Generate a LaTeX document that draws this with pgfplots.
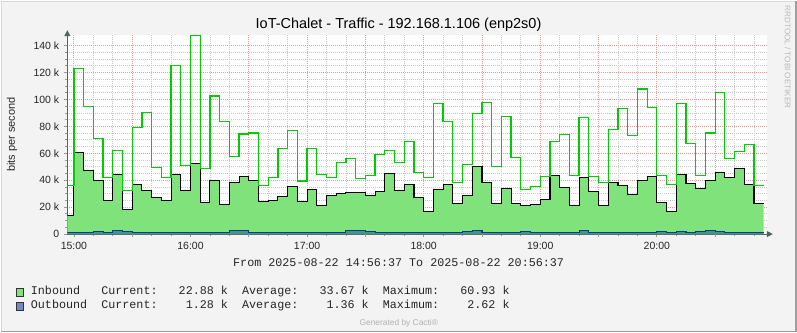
\documentclass[border=0pt]{standalone}
\usepackage{pgfplots}
\pgfplotsset{compat=1.18}
\usepackage{pgfplotstable}
\usepackage{fontspec}
\setmainfont{Liberation Sans}
\newfontfamily\legfont{Liberation Mono}
\usetikzlibrary{arrows.meta}
\definecolor{canvas}{HTML}{F3F3F3}
\definecolor{infill}{HTML}{7FE27B}
\definecolor{inmax}{RGB}{0,204,0}
\definecolor{outfill}{RGB}{72,146,138}
\definecolor{outline}{HTML}{0A3A94}
\definecolor{outbox}{RGB}{116,137,196}
\definecolor{mgrid}{HTML}{E89898}
\definecolor{mingrid}{HTML}{C8C8C8}
\definecolor{axiscol}{HTML}{4A6660}
\definecolor{shadea}{HTML}{D8D8D8}
\definecolor{shadeb}{HTML}{9E9E9E}

\pgfplotstableread{
t avg peak
-3.383 13.5 36.0
0 60.93 123.3
5 47.0 94.6
10 40.1 70.8
15 24.8 42.1
20 44.1 61.9
25 18.1 32.2
30 37.1 79.2
35 32.2 90.1
40 27.0 49.5
45 24.8 42.1
50 44.1 125.0
55 32.2 50.7
60 52.7 147.3
65 23.3 48.8
70 40.1 102.7
75 22.0 83.9
80 38.1 57.4
85 42.5 74.4
90 39.6 75.2
95 24.0 35.9
100 24.8 42.1
105 28.2 63.6
110 35.1 76.7
115 24.0 39.4
120 33.4 63.4
125 21.3 44.1
130 29.0 42.1
135 30.4 53.0
140 30.7 55.9
145 31.2 41.3
150 29.0 43.3
155 31.4 58.9
160 44.8 61.9
165 32.2 53.0
170 37.1 68.8
175 27.0 45.5
180 16.6 42.1
185 33.4 96.8
190 36.6 83.7
195 22.5 38.4
200 28.7 51.5
205 50.5 89.4
210 38.1 97.8
215 22.5 50.0
220 33.7 87.1
225 22.5 56.7
230 21.5 32.9
235 22.0 35.1
240 25.5 42.8
245 43.3 68.6
250 34.4 73.8
255 21.3 43.3
260 41.8 86.4
265 31.4 42.8
270 21.3 38.4
275 38.6 77.5
280 36.1 93.1
285 29.2 73.0
290 39.9 107.9
295 42.8 93.8
300 23.3 43.3
305 16.8 36.9
310 44.1 96.8
315 37.4 67.1
320 33.7 43.6
325 39.6 75.2
330 46.0 105.2
335 42.1 56.2
340 48.8 61.1
345 37.1 66.3
350 22.88 36.1
355 22.88 36.1
}\intable

\pgfplotstableread{
t out
-3.383 1.28
0 1.28
5 1.28
10 1.66
15 1.28
20 2.62
25 2.05
30 1.28
35 1.28
40 1.28
45 1.28
50 1.28
55 1.28
60 1.28
65 1.28
70 1.28
75 1.28
80 2.43
85 2.62
90 1.28
95 1.28
100 1.28
105 1.28
110 1.28
115 1.28
120 1.28
125 1.28
130 1.28
135 1.28
140 2.62
145 2.62
150 1.66
155 1.28
160 1.28
165 1.28
170 1.28
175 1.28
180 1.28
185 1.28
190 1.28
195 1.28
200 1.66
205 2.62
210 1.28
215 1.28
220 1.28
225 1.28
230 1.66
235 1.28
240 1.28
245 1.28
250 1.28
255 1.28
260 2.62
265 1.28
270 1.28
275 1.28
280 1.28
285 1.28
290 1.28
295 1.28
300 1.66
305 1.28
310 1.66
315 1.28
320 1.66
325 2.62
330 1.95
335 1.28
340 1.28
345 1.28
350 1.28
355 1.28
}\outtable

\begin{document}
\begin{tikzpicture}[x=1pt,y=1pt]
\fill[canvas] (0,0) rectangle (797,332);
\draw[shadea, line width=1pt] (0.5,0) -- (0.5,331.5) -- (797,331.5);
\draw[shadeb, line width=1.5pt] (0,0.75) -- (796.25,0.75) -- (796.25,332);
\useasboundingbox (0,0) rectangle (797,332);
\begin{axis}[
  at={(66.7pt,98.3pt)}, anchor=south west, scale only axis,
  width=700.6pt, height=199.2pt,
  xmin=-3.383, xmax=356.617, ymin=0, ymax=147.8,
  axis x line=bottom, axis y line=left,
  axis background/.style={fill=white},
  x axis line style={-{Triangle[length=6pt,width=6pt]}, shorten >=-6pt, draw=axiscol, line width=1pt},
  y axis line style={-{Triangle[length=6pt,width=6pt]}, shorten >=-5pt, draw=axiscol, line width=1pt},
  xtick={0,60,...,300},
  xticklabels={15:00,16:00,17:00,18:00,19:00,20:00},
  extra x ticks={30,90,150,210,270,330},
  extra x tick labels={},
  extra x tick style={grid=major},
  minor xtick={10,20,40,50,70,80,100,110,130,140,160,170,190,200,220,230,250,260,280,290,310,320,340,350},
  ytick={0,20,...,140},
  yticklabels={0,20 k,40 k,60 k,80 k,100 k,120 k,140 k},
  minor y tick num=3,
  grid=both,
  major grid style={draw=mgrid, dash pattern=on 1pt off 1pt, line width=0.9pt},
  minor grid style={draw=mingrid, dash pattern=on 1pt off 1pt, line width=0.8pt},
  tick align=outside,
  major tick length=3pt, minor tick length=2pt,
  tick style={draw=gray!80, line width=0.8pt},
  xticklabel style={font=\fontsize{10.5}{12}\selectfont, inner sep=0pt, anchor=north, yshift=-5pt, text=black!85},
  yticklabel style={font=\fontsize{10.5}{12}\selectfont, inner sep=0pt, anchor=east, xshift=-5pt, text=black!85},
]
\addplot[const plot, fill=infill, draw=none] table[x=t,y=avg]{\intable} \closedcycle;
\addplot[const plot, fill=outfill, draw=none] table[x=t,y=out]{\outtable} \closedcycle;
\addplot[const plot, solid, color=black, line width=1.1pt] table[x=t,y=avg]{\intable};
\addplot[const plot, solid, color=inmax, line width=1.25pt] table[x=t,y=peak]{\intable};
\addplot[const plot, solid, color=outline, line width=1.1pt] table[x=t,y=out]{\outtable};
\end{axis}
\node[anchor=base, inner sep=0pt, font=\fontsize{14.5}{17}\selectfont] at (398.4,303.7) {IoT-Chalet - Traffic - 192.168.1.106 (enp2s0)};
\node[rotate=90, inner sep=0pt, font=\fontsize{11}{13}\selectfont, text=black!85] at (11.2,197.8) {bits per second};
\node[rotate=-90, inner sep=0pt, font=\fontsize{8.1}{10}\selectfont, text=black!28] at (788.3,275.5) {RRDTOOL / TOBI OETIKER};
\node[anchor=base, inner sep=0pt, font=\legfont\fontsize{11.75}{14}\selectfont, text=black!85] at (398.5,66.3) {From 2025-08-22 14:56:37 To 2025-08-22 20:56:37};
\draw[fill=infill, draw=black!80, line width=0.8pt] (15.8,36.2) rectangle (22.8,44.2);
\draw[fill=outbox, draw=black!80, line width=0.8pt] (15.8,21.8) rectangle (22.8,29.8);
\node[anchor=base west, inner sep=0pt, font=\legfont\fontsize{11.75}{14}\selectfont\frenchspacing, text=black!85] at (30,37.7) {Inbound~~~Current:~~~22.88~k~~Average:~~~33.67~k~~Maximum:~~~60.93~k};
\node[anchor=base west, inner sep=0pt, font=\legfont\fontsize{11.75}{14}\selectfont\frenchspacing, text=black!85] at (30,23.7) {Outbound~~Current:~~~~1.28~k~~Average:~~~~1.36~k~~Maximum:~~~~2.62~k};
\node[anchor=base, inner sep=0pt, font=\fontsize{8.4}{10}\selectfont, text=black!30] at (398.7,6.5) {Generated by Cacti®};
\end{tikzpicture}
\end{document}
